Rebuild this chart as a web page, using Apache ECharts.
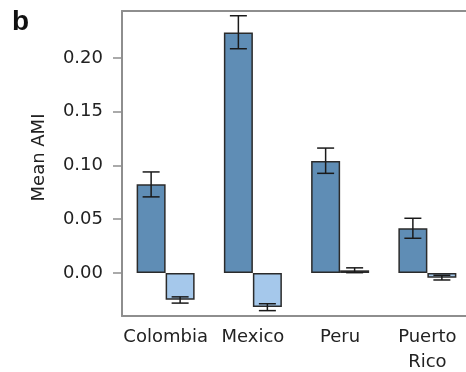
<!DOCTYPE html>
<html>
<head>
<meta charset="utf-8">
<script src="https://cdn.jsdelivr.net/npm/echarts@6/dist/echarts.min.js"></script>
<style>html,body{margin:0;padding:0;background:#fff}#c{width:466px;height:372px}</style>
</head>
<body>
<div id="c"></div>
<script>
const categories = ['Colombia', 'Mexico', 'Peru', 'Puerto\nRico'];
const darkValues = [0.0826, 0.2237, 0.1042, 0.0417];
const darkLow = [0.0708, 0.2086, 0.0927, 0.0323];
const darkHigh = [0.0940, 0.2393, 0.1162, 0.0509];
const lightValues = [-0.0249, -0.0317, 0.0025, -0.0044];
const lightLow = [-0.0280, -0.0350, 0.0003, -0.0065];
const lightHigh = [-0.0222, -0.0286, 0.0048, -0.0021];
const yTicks = [0, 0.05, 0.10, 0.15, 0.20];
const yMin = -0.04, yMax = 0.2437;

const BAR_W = 29;
const axisGray = '#8e8e8e';
const textCol = '#222';
const FONT = 'DejaVu Sans';

function errData(low, high) {
  return categories.map((c, i) => [i, low[i], high[i]]);
}
function errRender(offset) {
  return function (params, api) {
    const x = api.coord([api.value(0), 0])[0] + offset;
    const yl = api.coord([api.value(0), api.value(1)])[1];
    const yh = api.coord([api.value(0), api.value(2)])[1];
    const hw = 8.5;
    const st = { stroke: '#1a1a1a', lineWidth: 1.5 };
    return {
      type: 'group',
      children: [
        { type: 'line', shape: { x1: x, y1: yl, x2: x, y2: yh }, style: st },
        { type: 'line', shape: { x1: x - hw, y1: yl, x2: x + hw, y2: yl }, style: st },
        { type: 'line', shape: { x1: x - hw, y1: yh, x2: x + hw, y2: yh }, style: st }
      ]
    };
  };
}

const chart = echarts.init(document.getElementById('c'), null, { renderer: 'canvas' });
chart.setOption({
  animation: false,
  textStyle: { fontFamily: FONT },
  graphic: [{
    type: 'text', left: 12, top: 8,
    style: { text: 'b', font: 'bold 28px Liberation Sans, Arial, sans-serif', fill: '#111' }
  }],
  grid: {
    left: 122, top: 11, width: 349, height: 305,
    outerBoundsMode: 'none',
    containLabel: false,
    show: false
  },
  xAxis: [{
    type: 'category',
    data: categories,
    boundaryGap: true,
    axisLine: { onZero: false, lineStyle: { color: axisGray, width: 2 } },
    axisTick: { alignWithLabel: true, length: 7, lineStyle: { color: axisGray, width: 1.5 } },
    axisLabel: { color: textCol, fontSize: 18, fontFamily: FONT, margin: 9, lineHeight: 25, interval: 0 },
    splitLine: { show: false }
  }, {
    type: 'category',
    data: categories,
    position: 'top',
    axisLine: { show: true, onZero: false, lineStyle: { color: axisGray, width: 2 } },
    axisTick: { show: false },
    axisLabel: { show: false },
    splitLine: { show: false }
  }],
  yAxis: {
    type: 'value',
    min: yMin, max: yMax,
    name: 'Mean AMI',
    nameLocation: 'middle',
    nameGap: 74,
    nameTextStyle: { color: textCol, fontSize: 18, fontFamily: FONT, padding: [0, 0, 0, 12] },
    axisLine: { show: true, onZero: false, lineStyle: { color: axisGray, width: 2 } },
    axisTick: { show: true, length: 9, customValues: yTicks, lineStyle: { color: axisGray, width: 1.5 } },
    axisLabel: {
      color: textCol, fontSize: 18, fontFamily: FONT, margin: 19, customValues: yTicks,
      formatter: v => v.toFixed(2)
    },
    splitLine: { show: false }
  },
  series: [
    {
      type: 'bar', data: darkValues, barWidth: BAR_W, barGap: '0%',
      itemStyle: { color: '#5f8db5', borderColor: '#2b2b2b', borderWidth: 1.5 }
    },
    {
      type: 'bar', data: lightValues, barWidth: BAR_W, barGap: '0%',
      itemStyle: { color: '#a5c8eb', borderColor: '#2b2b2b', borderWidth: 1.5 }
    },
    {
      type: 'custom', data: errData(darkLow, darkHigh), renderItem: errRender(-BAR_W / 2),
      encode: { x: 0, y: [1, 2] }, z: 5
    },
    {
      type: 'custom', data: errData(lightLow, lightHigh), renderItem: errRender(BAR_W / 2),
      encode: { x: 0, y: [1, 2] }, z: 5
    }
  ]
});
</script>
</body>
</html>
